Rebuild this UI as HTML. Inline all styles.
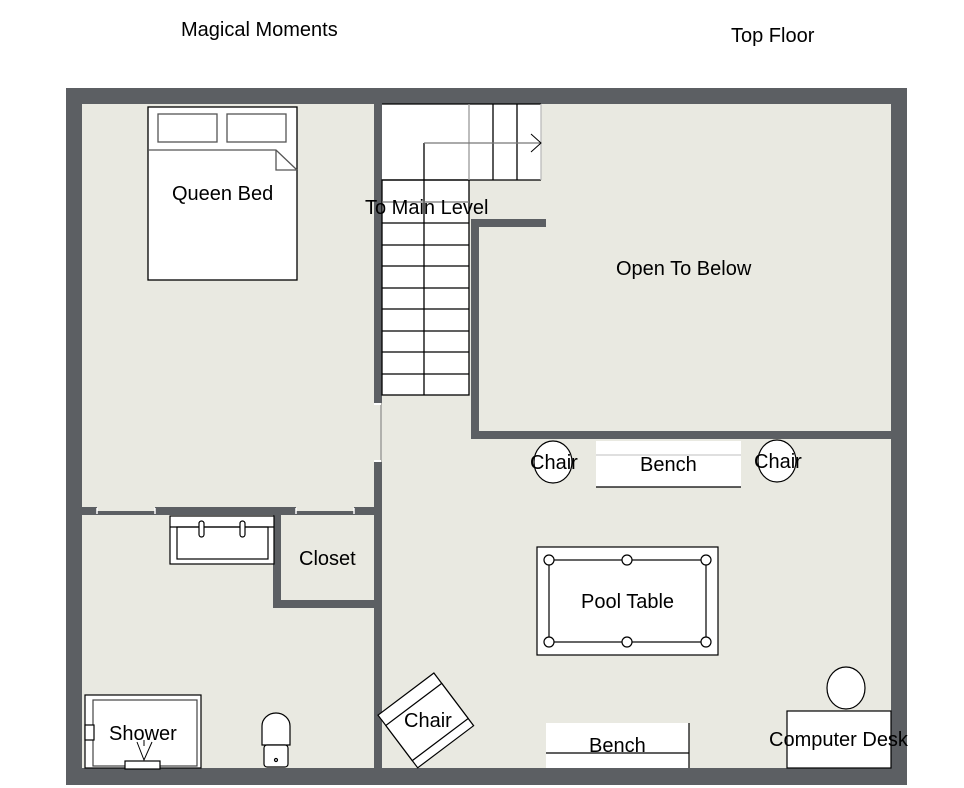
<!DOCTYPE html>
<html><head><style>
html,body{margin:0;padding:0;background:#fff;}
svg{display:block;font-family:"Liberation Sans",Arial,sans-serif;}
</style></head><body>
<svg width="964" height="788" viewBox="0 0 964 788" xmlns="http://www.w3.org/2000/svg">
<rect width="964" height="788" fill="#fff"/>
<g font-size="20">
<text x="181" y="36">Magical Moments</text>
<text x="731" y="42">Top Floor</text>
</g>
<rect x="66" y="88" width="841" height="697" fill="#5c5f63"/>
<rect x="82" y="104" width="809" height="664" fill="#e9e9e1"/>
<g fill="#5c5f63">
<rect x="374" y="104" width="8" height="299"/>
<rect x="374" y="462" width="8" height="306"/>
<rect x="82" y="507" width="292" height="8"/>
<rect x="273" y="514" width="8" height="94"/>
<rect x="273" y="600" width="101" height="8"/>
<rect x="471" y="219" width="75" height="8"/>
<rect x="471" y="219" width="8" height="219"/>
<rect x="471" y="431" width="420" height="8"/>
</g>
<g fill="#e9e9e1">
<rect x="97" y="507" width="58" height="4"/>
<rect x="296" y="507" width="58" height="4"/>
</g>
<g stroke="#fff" stroke-width="1.5">
<line x1="97" y1="508" x2="97" y2="514"/><line x1="155" y1="508" x2="155" y2="514"/>
<line x1="296" y1="508" x2="296" y2="514"/><line x1="354" y1="508" x2="354" y2="514"/>
</g>
<line x1="381" y1="403" x2="381" y2="462" stroke="#777"/>
<rect x="374" y="403" width="7" height="2" fill="#fff"/>
<rect x="374" y="460" width="7" height="2" fill="#fff"/>
<g stroke="#000" stroke-width="1.3" fill="#fff">
<rect x="382" y="104" width="159" height="76" stroke="none"/>
<rect x="382" y="180" width="87" height="215"/>
<line x1="382" y1="104" x2="541" y2="104"/>
<line x1="382" y1="180" x2="541" y2="180"/>
<line x1="493" y1="104" x2="493" y2="180"/>
<line x1="517" y1="104" x2="517" y2="180"/>
<line x1="469" y1="104" x2="469" y2="180" stroke="#999"/>
<line x1="541" y1="104" x2="541" y2="180" stroke="#bbb"/>
<line x1="424" y1="143" x2="424" y2="395"/>
<line x1="424" y1="143" x2="541" y2="143" stroke="#777"/>
<polyline points="531,134 541,143 531,152" fill="none" stroke-width="1"/>
<line x1="382" y1="202" x2="469" y2="202" stroke="#777"/>
<line x1="382" y1="223" x2="469" y2="223"/>
<line x1="382" y1="245" x2="469" y2="245"/>
<line x1="382" y1="266" x2="469" y2="266"/>
<line x1="382" y1="288" x2="469" y2="288"/>
<line x1="382" y1="309" x2="469" y2="309"/>
<line x1="382" y1="331" x2="469" y2="331"/>
<line x1="382" y1="352" x2="469" y2="352"/>
<line x1="382" y1="374" x2="469" y2="374"/>
</g>
<g stroke="#000" stroke-width="1.3" fill="#fff">
<rect x="148" y="107" width="149" height="173"/>
<rect x="158" y="114" width="59" height="28" stroke="#555"/>
<rect x="227" y="114" width="59" height="28" stroke="#555"/>
<polyline points="148,150 276,150 297,170" fill="none" stroke="#555"/>
<polyline points="276,150 276,170 297,170" fill="none" stroke="#555"/>
</g>
<g stroke="#000" stroke-width="1.2" fill="#fff">
<rect x="170" y="516" width="104" height="48"/>
<rect x="177" y="527" width="91" height="32"/>
<line x1="170" y1="527" x2="274" y2="527"/>
<rect x="199" y="521" width="5" height="16" rx="2.5"/>
<rect x="240" y="521" width="5" height="16" rx="2.5"/>
</g>
<g stroke="#000" stroke-width="1.2" fill="#fff">
<rect x="85" y="695" width="116" height="73"/>
<rect x="93" y="700" width="104" height="66" stroke="#444"/>
<rect x="85" y="725" width="9" height="15"/>
<rect x="125" y="761" width="35" height="8"/>
<polyline points="137,742 144,760 152,742" fill="none" stroke-width="1"/>
<line x1="144" y1="740" x2="144" y2="746" stroke-width="1"/>
</g>
<g stroke="#000" stroke-width="1.2" fill="#fff">
<path d="M262,745 L262,726 A14,13 0 0 1 290,726 L290,745 Z"/>
<rect x="264" y="745" width="24" height="22" rx="3"/>
<circle cx="276" cy="760" r="1.5"/>
</g>
<g transform="translate(427,722) rotate(-37)" stroke="#000" stroke-width="1.2" fill="#fff">
<rect x="-35" y="-35" width="70" height="66"/>
<rect x="-35" y="-22" width="70" height="44"/>
</g>
<g stroke="#000" stroke-width="1.2" fill="#fff">
<ellipse cx="553" cy="462" rx="19" ry="21"/>
<ellipse cx="777" cy="461" rx="19" ry="21"/>
<rect x="596" y="441" width="145" height="46" stroke="none"/>
<line x1="596" y1="487" x2="741" y2="487"/>
<line x1="596" y1="455" x2="741" y2="455" stroke="#ccc"/>
<rect x="537" y="547" width="181" height="108"/>
<rect x="549" y="560" width="157" height="82"/>
<circle cx="549" cy="560" r="5"/><circle cx="627" cy="560" r="5"/><circle cx="706" cy="560" r="5"/>
<circle cx="549" cy="642" r="5"/><circle cx="627" cy="642" r="5"/><circle cx="706" cy="642" r="5"/>
<rect x="546" y="723" width="143" height="45" stroke="none"/>
<line x1="546" y1="753" x2="689" y2="753"/>
<line x1="689" y1="723" x2="689" y2="768"/>
<ellipse cx="846" cy="688" rx="19" ry="21"/>
<rect x="787" y="711" width="104" height="57"/>
</g>
<g font-size="20">
<text x="172" y="200">Queen Bed</text>
<text x="365" y="214">To Main Level</text>
<text x="616" y="275">Open To Below</text>
<text x="299" y="565">Closet</text>
<text x="109" y="740">Shower</text>
<text x="404" y="727">Chair</text>
<text x="530" y="469">Chair</text>
<text x="640" y="471">Bench</text>
<text x="754" y="468">Chair</text>
<text x="581" y="608">Pool Table</text>
<text x="589" y="752">Bench</text>
<text x="769" y="746">Computer Desk</text>
</g>
</svg>
</body></html>
